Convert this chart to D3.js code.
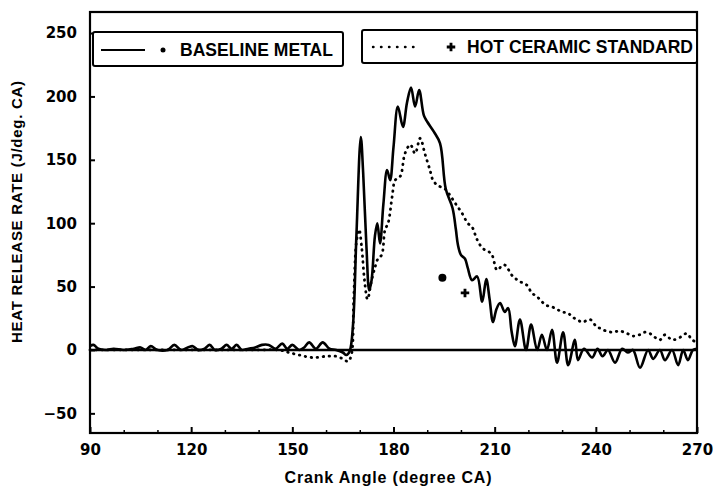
<!DOCTYPE html>
<html>
<head>
<meta charset="utf-8">
<script src="https://cdn.jsdelivr.net/npm/d3@7"></script>
<style>
    body { margin: 0; background: #fff; }
    .tickLbl { font-family: "DejaVu Sans", sans-serif; font-weight: bold; font-size: 15px; }
    .lbl { font-family: "Liberation Sans", Arial, sans-serif; font-weight: bold; }
</style>
</head>
<body>
<div id="chart"></div>
<script>

///////////  Data  ///////////

// Baseline metal (solid line)
var solidAngle = [90, 91, 92.5, 95, 97, 100, 103, 105, 106.5, 108, 110, 113, 115, 117, 119, 120.5, 122, 124, 125.5, 127,
    129, 130.5, 132, 133.5, 135, 137, 139, 141, 143, 145, 147, 148.5, 150, 152, 153.5, 155, 157, 159, 161, 163,
    165, 166, 167, 168, 169, 170.3, 171, 172, 172.8, 173.5, 174.5, 175.2, 176, 177, 178.1, 179, 180, 181.3, 182.8, 184,
    185.2, 186.4, 187.6, 189, 190, 192, 193.8, 195.5, 197.5, 198.5, 199.1, 200, 201.2, 202, 203.3, 204.8, 206.3, 207.5, 208.5, 209.5,
    210.5, 211.6, 213, 214, 215, 216, 217.5, 219.3, 220.8, 222.6, 224, 225.5, 227, 228.5, 230.3, 231.8, 233.8, 234.7,
    236.5, 238.9, 240.5, 242, 243.6, 245.7, 247.8, 249.5, 251, 253.1, 255.5, 257, 259, 260.5, 262.6, 264.4, 265.9, 267.3, 268.8, 270];
var solidRate = [3, 4, 1, 0, 1, 0, 1, 2, 0, 3, 0, 0, 4, 0, 2, 3, 0, 1, 4, 0,
    1, 4, 1, 4, 0, 1, 2, 4, 4, 1, 5, 1, 4, 0, 2, 6, 1, 6, 1, 0,
    -2, -4, -1, 20, 90, 168, 140, 80, 47, 55, 90, 100, 84, 115, 142, 134, 160, 192, 176, 195,
    207, 192, 205, 185, 180, 172, 163, 127, 112, 95, 83, 75, 72, 65, 55, 58, 38, 56, 40, 22,
    32, 37, 30, 33, 15, 3, 24, 0, 20, 0, 12, 0, 16, -10, 14, -12, 8, -8,
    1, -6, 1, -5, 0, -10, 1, -2, 0, -14, 0, -7, 0, -8, 0, -12, 0, -8, 0, 1];

// Hot ceramic standard (dotted line)
var dottedAngle = [90, 100, 110, 120, 130, 140, 146, 149, 152, 156, 160, 163, 165, 166.5, 167.5, 168.2, 169, 169.8, 170.6, 171.4,
    172.3, 173.5, 174.5, 175.4, 176.5, 177.5, 178.4, 179.6, 180.5, 182, 183.4, 185, 186.4, 187.9, 189.3, 190.8, 191.7, 193, 195.3, 197,
    198.5, 200.3, 202, 203.3, 204.8, 206.5, 208, 209.2, 210.7, 212, 213, 215.4, 217.5, 219.6, 221, 222.6, 224, 225.5, 227, 228.5,
    230, 231.8, 233, 234.4, 236, 238.3, 240, 241.3, 243, 245, 247, 249.3, 251, 253, 254.5, 256, 257.5, 259, 260.5, 262,
    263, 265, 267, 268.5, 270];
var dottedRate = [0, 0, 0, 0, 0, 0, 0, -2, -4, -6, -5, -5, -7, -9, -4, 40, 85, 95, 80, 55,
    40, 55, 65, 72, 75, 95, 100, 121, 134, 137, 155, 162, 155, 167, 155, 142, 134, 130, 127, 121,
    115, 108, 100, 97, 87, 80, 78, 75, 63, 66, 67, 58, 54, 51, 45, 42, 38, 35, 34, 32,
    30, 29, 26, 24, 22, 24, 19, 17, 15, 14, 15, 13, 11, 12, 14, 13, 10, 8, 12, 9,
    8, 10, 13, 8, 6];

// Single point markers (dot = baseline metal, plus = hot ceramic)
var markerAngle = [194.5, 201.2];
var markerRate = [57, 45];

// Axis ticks
var xMajorTicks = [90, 120, 150, 180, 210, 240, 270];
var xMinorTicks = [100, 110, 130, 140, 160, 170, 190, 200, 220, 230, 250, 260];
var yTicks = [-50, 0, 50, 100, 150, 200, 250];
var legendLabels = ["BASELINE METAL", "HOT CERAMIC STANDARD"];


///////////  SVG  ///////////

var svgWidth = 713;
var svgHeight = 488;

var svgMargin = { top: 12, right: 16, bottom: 55, left: 90 };

var chartWidth = svgWidth - svgMargin.left - svgMargin.right;
var chartHeight = svgHeight - svgMargin.top - svgMargin.bottom;

var SVG = d3.select("#chart").append("svg")
    .attr("width", svgWidth)
    .attr("height", svgHeight);

var chartGrp = SVG.append("g")
    .attr("transform", `translate(${svgMargin.left}, ${svgMargin.top})`);

// Scales
var xScale = d3.scaleLinear().domain([90, 270]).range([0, chartWidth]);
var yScale = d3.scaleLinear().domain([-65.5, 266.6]).range([chartHeight, 0]);


///////////  Axes  ///////////

// y axis, ticks pointing inwards
var yAxis = chartGrp.append("g")
    .call(d3.axisLeft(yScale).tickValues(yTicks).tickSize(-5).tickPadding(13)
        .tickFormat(d => d < 0 ? "\u2212" + Math.abs(d) : d));
yAxis.select(".domain").remove();
yAxis.selectAll("line").attr("stroke-width", 2);
yAxis.selectAll("text").attr("class", "tickLbl").attr("fill", "#000");

// x axis minor ticks
var xMinor = chartGrp.append("g")
    .attr("transform", `translate(0, ${chartHeight})`)
    .call(d3.axisBottom(xScale).tickValues(xMinorTicks).tickSize(-3).tickFormat(""));
xMinor.select(".domain").remove();
xMinor.selectAll("line").attr("stroke-width", 1.5);

// x axis major ticks + labels
var xAxis = chartGrp.append("g")
    .attr("transform", `translate(0, ${chartHeight})`)
    .call(d3.axisBottom(xScale).tickValues(xMajorTicks).tickSize(-6).tickPadding(11));
xAxis.select(".domain").remove();
xAxis.selectAll("line").attr("stroke-width", 2);
xAxis.selectAll("text").attr("class", "tickLbl").attr("fill", "#000");

// Frame
chartGrp.append("rect")
    .attr("x", 0).attr("y", 0)
    .attr("width", chartWidth).attr("height", chartHeight)
    .attr("fill", "none").attr("stroke", "#000").attr("stroke-width", 2.2);

// Zero line
chartGrp.append("line")
    .attr("x1", 0).attr("x2", chartWidth)
    .attr("y1", yScale(0)).attr("y2", yScale(0))
    .attr("stroke", "#000").attr("stroke-width", 2.5);


///////////  Lines  ///////////

var lineGen = d3.line()
    .x(d => xScale(d[0]))
    .y(d => yScale(d[1]))
    .curve(d3.curveCatmullRom.alpha(0.5));

var solidData = solidAngle.map((a, i) => [a, solidRate[i]]);
var dottedData = dottedAngle.map((a, i) => [a, dottedRate[i]]);

chartGrp.append("path")
    .datum(dottedData)
    .attr("d", lineGen)
    .attr("fill", "none")
    .attr("stroke", "#000")
    .attr("stroke-width", 2.8)
    .attr("stroke-linecap", "round")
    .attr("stroke-dasharray", "0.5,5.5");

chartGrp.append("path")
    .datum(solidData)
    .attr("d", lineGen)
    .attr("fill", "none")
    .attr("stroke", "#000")
    .attr("stroke-width", 2.6)
    .attr("stroke-linejoin", "round");

// Markers
chartGrp.append("circle")
    .attr("cx", xScale(markerAngle[0])).attr("cy", yScale(markerRate[0]))
    .attr("r", 4).attr("fill", "#000");

chartGrp.append("path")
    .attr("transform", `translate(${xScale(markerAngle[1])}, ${yScale(markerRate[1])})`)
    .attr("d", d3.symbol().type(d3.symbolCross).size(40))
    .attr("fill", "#000");


///////////  Legend  ///////////

var legendGrp = SVG.append("g");

// Box 1 - baseline metal
legendGrp.append("rect")
    .attr("x", 93).attr("y", 32).attr("width", 250).attr("height", 34)
    .attr("fill", "#fff").attr("stroke", "#000").attr("stroke-width", 2).attr("rx", 2);
legendGrp.append("line")
    .attr("x1", 101).attr("x2", 145).attr("y1", 50).attr("y2", 50)
    .attr("stroke", "#000").attr("stroke-width", 2);
legendGrp.append("circle")
    .attr("cx", 163).attr("cy", 50).attr("r", 2.5).attr("fill", "#000");
legendGrp.append("text")
    .attr("class", "lbl").attr("x", 180).attr("y", 56)
    .attr("textLength", 153)
    .style("font-size", "17.5px")
    .text(legendLabels[0]);

// Box 2 - hot ceramic standard
legendGrp.append("rect")
    .attr("x", 362).attr("y", 30).attr("width", 335).attr("height", 33)
    .attr("fill", "#fff").attr("stroke", "#000").attr("stroke-width", 2).attr("rx", 2);
legendGrp.append("line")
    .attr("x1", 373).attr("x2", 417).attr("y1", 47).attr("y2", 47)
    .attr("stroke", "#000").attr("stroke-width", 2.4)
    .attr("stroke-linecap", "round").attr("stroke-dasharray", "0.5,7.5");
legendGrp.append("path")
    .attr("transform", "translate(451, 47)")
    .attr("d", d3.symbol().type(d3.symbolCross).size(40))
    .attr("fill", "#000");
legendGrp.append("text")
    .attr("class", "lbl").attr("x", 467).attr("y", 53)
    .attr("textLength", 226)
    .style("font-size", "17.5px")
    .text(legendLabels[1]);


///////////  Axis titles  ///////////

SVG.append("text")
    .attr("class", "lbl")
    .attr("x", 388).attr("y", 483)
    .attr("text-anchor", "middle")
    .attr("textLength", 207)
    .style("font-size", "16px")
    .text("Crank Angle (degree CA)");

SVG.append("text")
    .attr("class", "lbl")
    .attr("transform", "translate(22, 212) rotate(-90)")
    .attr("text-anchor", "middle")
    .attr("textLength", 262)
    .style("font-size", "15px")
    .text("HEAT RELEASE RATE (J/deg. CA)");

</script>
</body>
</html>
